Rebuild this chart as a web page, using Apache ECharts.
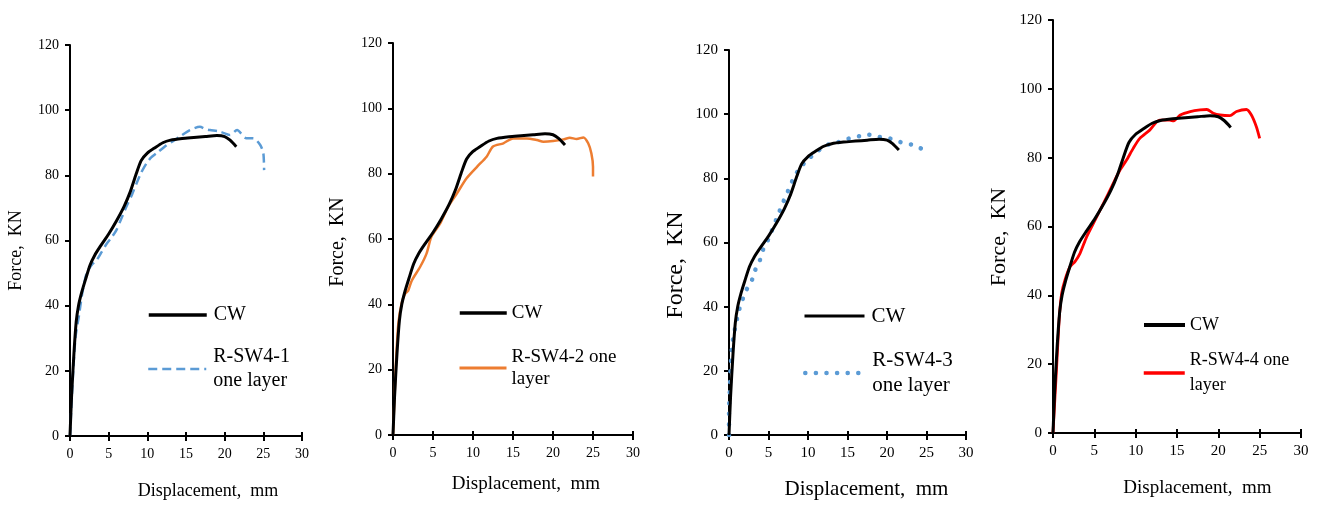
<!DOCTYPE html>
<html><head><meta charset="utf-8">
<script src="https://cdn.jsdelivr.net/npm/echarts@6/dist/echarts.min.js"></script>
<style>html,body{margin:0;padding:0;background:#fff}#c{width:1322px;height:505px}</style>
</head><body><div id="c"></div>
<script>
// ---- data (displacement mm, force kN) ----
const xTickValues = [0, 5, 10, 15, 20, 25, 30];
const yTickValues = [0, 20, 40, 60, 80, 100, 120];
const xTitle = 'Displacement,  mm';
const yTitle = 'Force,  KN';
const cwName = 'CW';
const specimenNames = ['R-SW4-1 one layer', 'R-SW4-2 one layer', 'R-SW4-3 one layer', 'R-SW4-4 one layer'];
const specimenLegendText = ['R-SW4-1\none layer', 'R-SW4-2 one\nlayer', 'R-SW4-3\none layer', 'R-SW4-4 one\nlayer'];

const cw = [[0,0],[0.2,12],[0.5,25],[0.8,35],[1.1,40],[1.5,44],[2,48],[2.6,52.5],[3.2,55.5],[4,58.5],[5,62],[6,66],[7,70.5],[7.8,75],[8.5,80],[9.2,84.5],[10,86.8],[11,88.5],[12,90],[13,90.8],[14.5,91.3],[16,91.6],[17.5,91.9],[19,92.2],[20,91.9],[20.7,90.8],[21.5,88.8]];

const rsw41 = [[0,0],[0.3,15],[0.7,30],[1.16,37],[1.6,44],[2.16,50],[2.8,52.5],[3.45,54],[4.1,56.5],[4.74,59],[5.4,61],[6.0,63.2],[6.6,66.5],[7.3,70.4],[8.0,74],[8.6,77.5],[9.2,80.8],[9.9,83.7],[10.5,85.5],[11.2,86.8],[12.5,89.3],[13.4,90.6],[14.2,91.9],[15.5,93.9],[16.8,94.9],[17.5,94.2],[18.1,93.9],[19.4,93.4],[20.7,92.4],[21.6,93.9],[22.8,91.4],[23.7,91.4],[24.6,89.3],[25,86.8],[25.1,81.6]];

const rsw42 = [[0,0],[0.37,21.9],[0.67,34.2],[1.08,40.3],[1.5,43.2],[1.9,44.2],[2.33,47.2],[3.4,51.5],[4.2,55.6],[4.8,60.7],[5.9,64.8],[6.9,69.9],[8.0,74],[9.2,78.6],[10.5,82.1],[11.7,85.2],[12.5,88.3],[13.8,89.3],[15.0,90.8],[16.7,90.8],[18.0,90.3],[18.8,89.8],[20,90],[21.3,90.5],[22.1,91],[22.95,90.6],[23.8,91.1],[24.4,89.3],[24.8,86.2],[25.0,82.1],[25.0,79.1]];

const rsw43 = [[0,0],[0,7.3],[0.1,14],[0.2,20.8],[0.38,27.5],[0.63,31.6],[0.9,34.7],[1.2,38.3],[1.6,41.4],[2.15,45],[2.8,47.6],[3.3,51.3],[3.9,54.4],[4.35,58],[5.0,61.1],[5.5,64.2],[6.0,67.3],[6.5,70.4],[7.05,73.7],[7.6,76.8],[8.2,80.2],[9.0,83.3],[10.0,85.9],[11.1,88.2],[12.3,90.3],[13.6,91.1],[15.0,92.3],[16.4,93.1],[17.6,93.6],[19.0,92.9],[20.4,92.4],[21.7,91.3],[23.1,90.5],[24.4,89.2]];

const rsw44 = [[0,0],[0.44,19.3],[0.77,33.8],[1.05,40.6],[1.45,44.5],[2.06,48.3],[2.66,49.8],[3.27,52.2],[4.07,57],[5.1,61.9],[6.1,66.7],[7.1,71.6],[8.1,76.4],[8.9,79.3],[9.7,82.7],[10.5,85.6],[11.7,88],[12.9,90.9],[14.1,90.9],[14.6,90.7],[15.4,92.4],[16.6,93.4],[17.8,93.9],[18.6,94],[19.4,92.9],[20.2,92.4],[21.4,92.2],[22.2,93.4],[23.4,94],[24.0,92.4],[24.6,89],[25.0,85.6]];

const specimens = [rsw41, rsw42, rsw43, rsw44];

// ---- layout / styles ----
const FONT = "'Liberation Serif', 'Times New Roman', serif";
const panels = [
  {grid:{left:70,top:45,width:232,height:391}, tick:14, xGap:46, xPad:44, yGap:45, yPad:20, xFs:18, yFs:18,
   color:'#5B9BD5', line:{width:2.5,type:[9,5]}, legSp:2.5, legCw:3.5,
   leg:{left:147,w:58,gap:7,fs:20,lh:24,cwY:315,spY:369}},
  {grid:{left:393,top:43,width:240,height:392}, tick:14, xGap:40, xPad:26, yGap:45, yPad:6, xFs:19, yFs:20,
   color:'#ED7D31', line:{width:2.5,type:'solid'}, legSp:3, legCw:3.5,
   leg:{left:458,w:47,gap:5,fs:19,lh:22,cwY:313,spY:368}},
  {grid:{left:729,top:50,width:237,height:387}, tick:15, xGap:44, xPad:38, yGap:41, yPad:45, xFs:21, yFs:24,
   color:'#5B9BD5', line:{width:4.5,type:[0.1,10.5],cap:'round'}, legSp:4.5, legCw:3,
   leg:{left:803,w:60,gap:7,fs:21,lh:25,cwY:316,spY:373}},
  {grid:{left:1053,top:20,width:248,height:413}, tick:15, xGap:46, xPad:41, yGap:43, yPad:21, xFs:19, yFs:22,
   color:'#FF0000', line:{width:2.8,type:'solid'}, legSp:3.5, legCw:4,
   leg:{left:1142,w:41,gap:5,fs:18,lh:25,cwY:325,spY:373}}
];

const grids = [], xAxes = [], xTickAxes = [], yAxes = [], series = [], legends = [];
panels.forEach((p, i) => {
  grids.push(p.grid);
  const axisCommon = {
    axisLine:{show:true,lineStyle:{color:'#000',width:2}},
    axisTick:{show:true,inside:false,length:5,lineStyle:{color:'#000',width:2}},
    splitLine:{show:false},
    axisLabel:{color:'#000',fontFamily:FONT,fontSize:p.tick,margin:11}
  };
  const xScale = {min:xTickValues[0], max:xTickValues[xTickValues.length-1], interval:xTickValues[1]-xTickValues[0]};
  xAxes.push(Object.assign({}, axisCommon, xScale, {
    type:'value', gridIndex:i, position:'bottom',
    name:xTitle, nameLocation:'middle', nameGap:p.xGap,
    nameTextStyle:{color:'#000',fontFamily:FONT,fontSize:p.xFs,padding:[0,0,0,p.xPad]}
  }));
  // inside half of the crossing tick marks on the x axis
  xTickAxes.push(Object.assign({}, xScale, {
    type:'value', gridIndex:i, position:'bottom', offset:0,
    axisLine:{show:false}, axisLabel:{show:false}, splitLine:{show:false},
    axisTick:{show:true,inside:true,length:4,lineStyle:{color:'#000',width:2}}
  }));
  yAxes.push(Object.assign({}, axisCommon, {
    type:'value', gridIndex:i, min:yTickValues[0], max:yTickValues[yTickValues.length-1],
    interval:yTickValues[1]-yTickValues[0],
    name:yTitle, nameLocation:'middle', nameGap:p.yGap, nameRotate:90,
    nameTextStyle:{color:'#000',fontFamily:FONT,fontSize:p.yFs,padding:[0,p.yPad,0,0]}
  }));
  series.push({
    name:cwName, type:'line', xAxisIndex:i, yAxisIndex:i, data:cw, symbol:'none', smooth:0.25,
    lineStyle:{color:'#000',width:3}, itemStyle:{color:'#000'}, z:3
  });
  series.push({
    name:specimenNames[i], type:'line', xAxisIndex:i, yAxisIndex:i, data:specimens[i], symbol:'none', smooth:0.25,
    lineStyle:Object.assign({color:p.color}, p.line), itemStyle:{color:p.color}, z:2
  });
  const L = p.leg;
  legends.push({
    data:[cwName], left:L.left, top:L.cwY - L.lh/2, padding:0, orient:'vertical',
    itemWidth:L.w, itemHeight:4, itemGap:0, selectedMode:false,
    textStyle:{color:'#000',fontFamily:FONT,fontSize:L.fs,lineHeight:L.lh,padding:[0,0,0,L.gap-5]},
    itemStyle:{opacity:0},
    lineStyle:{width:p.legCw}
  });
  legends.push({
    data:[specimenNames[i]], left:L.left, top:L.spY - 1.5*L.lh, padding:0, orient:'vertical',
    itemWidth:L.w, itemHeight:4, itemGap:0, selectedMode:false,
    formatter:() => specimenLegendText[i],
    textStyle:{color:'#000',fontFamily:FONT,fontSize:L.fs,lineHeight:L.lh,padding:[L.lh,0,0,L.gap-5]},
    itemStyle:{opacity:0},
    lineStyle:{width:p.legSp}
  });
});

const chart = echarts.init(document.getElementById('c'), null, {renderer:'canvas'});
chart.setOption({
  backgroundColor:'#fff',
  animation:false,
  grid:grids, xAxis:xAxes.concat(xTickAxes), yAxis:yAxes, series:series, legend:legends
});
</script></body></html>
